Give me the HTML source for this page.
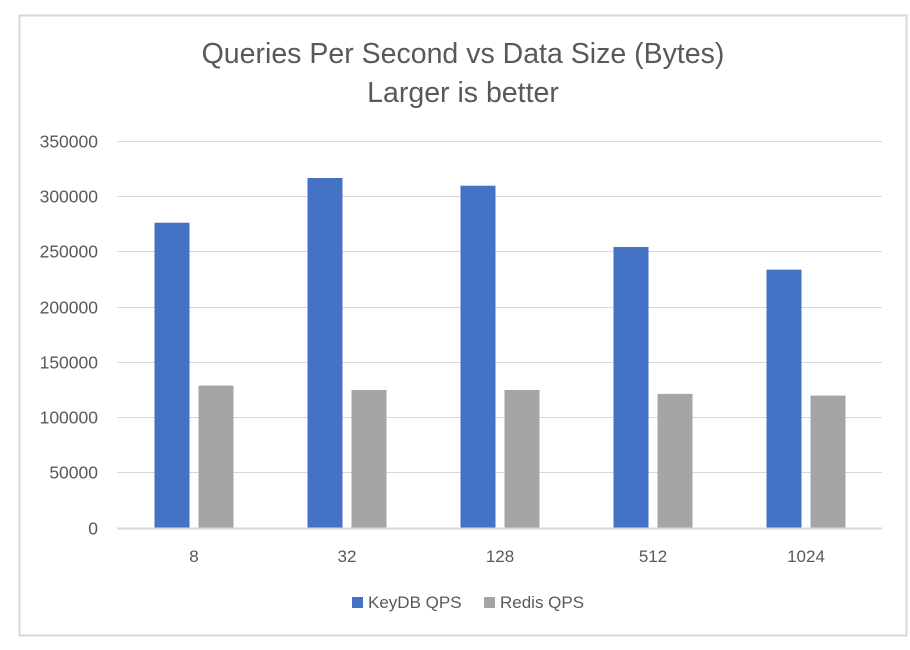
<!DOCTYPE html>
<html><head><meta charset="utf-8"><style>
html,body{margin:0;padding:0;background:#fff;width:910px;height:650px;overflow:hidden;font-family:"Liberation Sans",sans-serif}
</style></head><body>
<svg id="chart" width="910" height="650" xmlns="http://www.w3.org/2000/svg">
<rect x="19.5" y="15.5" width="887" height="620" fill="#fff" stroke="#d9d9d9" stroke-width="2"/>
<text x="463" y="63" text-anchor="middle" font-size="28.5" fill="#595959">Queries Per Second vs Data Size (Bytes)</text>
<text x="463" y="102" text-anchor="middle" font-size="28.5" fill="#595959">Larger is better</text>
<g id="grid"></g><g id="bars"></g><g id="axes"></g>
<g>
<rect x="352" y="597" width="11" height="11" fill="#4472c4"/>
<text x="368" y="608" font-size="17" fill="#595959">KeyDB QPS</text>
<rect x="484" y="597" width="11" height="11" fill="#a5a5a5"/>
<text x="500" y="608" font-size="17" fill="#595959">Redis QPS</text>
</g>
</svg>
<script>
const categories = ["8","32","128","512","1024"];
const keydbValues = [276000, 316500, 309500, 254000, 233500];
const redisValues = [128500, 124500, 124500, 121000, 119500];
const yTicks = [0,50000,100000,150000,200000,250000,300000,350000];

const NS="http://www.w3.org/2000/svg";
const x0=117,x1=882,y0=527.5,yTop=141,yMax=350000;
const yScale=v=>y0-(v/yMax)*(y0-yTop);
const band=(x1-x0)/categories.length;
const xCenter=i=>x0+band*(i+0.5);
function mk(tag,attrs,parent,text){const e=document.createElementNS(NS,tag);for(const k in attrs)e.setAttribute(k,attrs[k]);if(text!==undefined)e.textContent=text;parent.appendChild(e);return e;}
const grid=document.getElementById('grid'),bars=document.getElementById('bars'),axes=document.getElementById('axes');
yTicks.forEach(t=>{
  const y=Math.round(yScale(t))+0.5;
  const l=mk('line',{x1:x0,x2:x1,y1:y,y2:y,stroke:'#d9d9d9','stroke-width':t===0?2:1},grid);
  
  
  const tx=mk('text',{x:98,y:y+6,'text-anchor':'end','font-size':17.5,fill:'#595959'},axes,String(t));
  
  
});
const bw=35,gap=9;
categories.forEach((c,i)=>{
  const cx=xCenter(i)+0.5;
  const kx=cx-gap/2-bw, rx=cx+gap/2;
  const kb=mk('rect',{x:kx,y:yScale(keydbValues[i]),width:bw,height:y0-yScale(keydbValues[i]),fill:'#4472c4'},bars);
  
  
  const rb=mk('rect',{x:rx,y:yScale(redisValues[i]),width:bw,height:y0-yScale(redisValues[i]),fill:'#a5a5a5'},bars);
  
  
  const lab=mk('text',{x:cx,y:562,'text-anchor':'middle','font-size':17,fill:'#595959'},axes,c);
  
  
});
</script>
</body></html>
